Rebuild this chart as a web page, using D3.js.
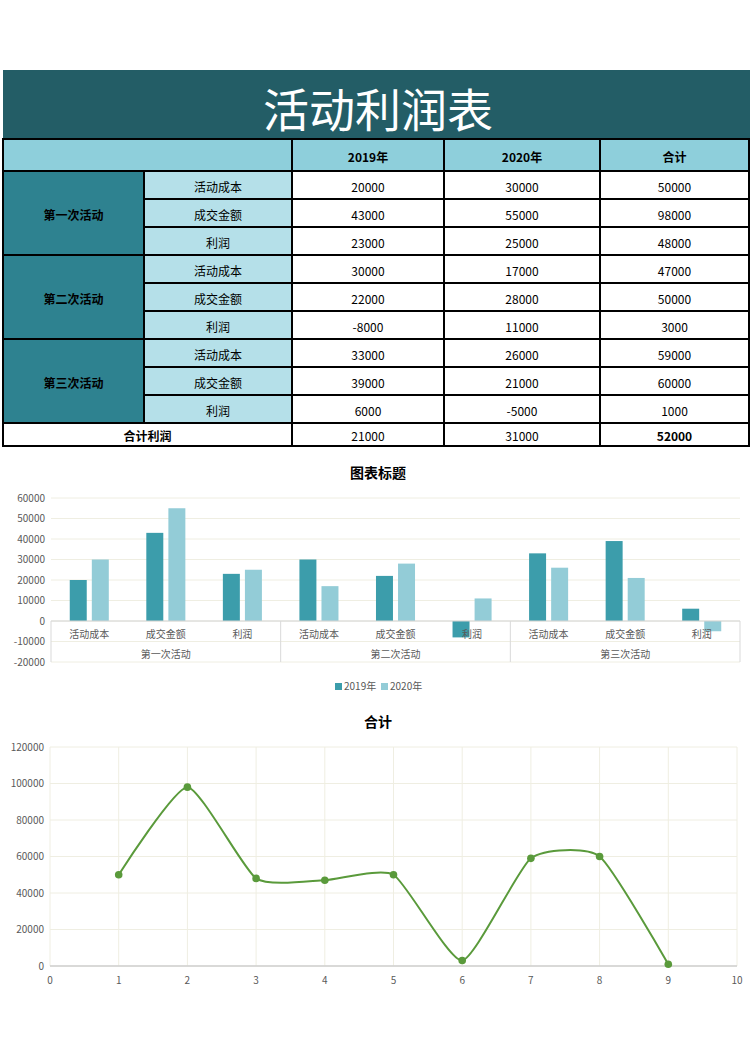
<!DOCTYPE html>
<html lang="zh">
<head>
<meta charset="utf-8">
<title>活动利润表</title>
<style>
    body{ margin:0; background:#fff; font-family:"Noto Sans CJK SC", "Noto Sans", sans-serif; }
    .cell-text{ font-size:12px; fill:#000; text-anchor:middle; dominant-baseline:central; }
    .bold{ font-weight:bold; }
    .tick-label{ font-size:10px; fill:#595959; }
    .chart-title{ font-size:14px; font-weight:bold; text-anchor:middle; fill:#000; }
</style>
</head>
<body>
<script src="https://d3js.org/d3.v7.min.js" charset="utf-8"></script>
<script>
    var groups = ['第一次活动','第二次活动','第三次活动']
    var items = ['活动成本','成交金额','利润']
    var years = ['2019年','2020年']
    var values2019 = [20000,43000,23000,30000,22000,-8000,33000,39000,6000]
    var values2020 = [30000,55000,25000,17000,28000,11000,26000,21000,-5000]
    var totals = [50000,98000,48000,47000,50000,3000,59000,60000,1000]
    var profitTotals = [21000,31000,52000]
    var barTicks = [-20000,-10000,0,10000,20000,30000,40000,50000,60000]
    var lineTicksY = [0,20000,40000,60000,80000,100000,120000]
    var lineTicksX = [0,1,2,3,4,5,6,7,8,9,10]

    var svg = d3.select('body').append('svg')
        .attr('width',750).attr('height',1058)

    // ---------- table ----------
    svg.append('rect').attr('x',3).attr('y',70).attr('width',747).attr('height',69).attr('fill','#235d66')
    svg.append('text').attr('x',378).attr('y',107)
        .attr('text-anchor','middle').attr('dominant-baseline','central')
        .attr('font-size',46).attr('fill','#fff')
        .attr('font-family','"Noto Sans CJK SC"')
        .text('活动利润表')

    var colX = [3,144,292,444,600,749]
    var headTop = 139, headH = 32, rowH = 28
    var t = svg.append('g')

    function cell(x0,x1,y0,y1,fill,txt,bold){
        t.append('rect').attr('x',x0).attr('y',y0).attr('width',x1-x0).attr('height',y1-y0)
            .attr('fill',fill).attr('stroke','#000').attr('stroke-width',2)
        if(txt!==undefined){
            t.append('text').attr('class','cell-text'+(bold?' bold':''))
                .attr('x',(x0+x1)/2).attr('y',(y0+y1)/2+1).text(txt)
        }
    }

    cell(colX[0],colX[2],headTop,headTop+headH,'#8ecfdb')
    cell(colX[2],colX[3],headTop,headTop+headH,'#8ecfdb',years[0],true)
    cell(colX[3],colX[4],headTop,headTop+headH,'#8ecfdb',years[1],true)
    cell(colX[4],colX[5],headTop,headTop+headH,'#8ecfdb','合计',true)

    var bodyTop = headTop+headH
    groups.forEach(function(g,gi){
        var gy = bodyTop + gi*3*rowH
        cell(colX[0],colX[1],gy,gy+3*rowH,'#2e8290',g,true)
        items.forEach(function(it,ii){
            var k = gi*3+ii, y0 = gy+ii*rowH
            cell(colX[1],colX[2],y0,y0+rowH,'#b5e0e9',it)
            cell(colX[2],colX[3],y0,y0+rowH,'#fff',values2019[k])
            cell(colX[3],colX[4],y0,y0+rowH,'#fff',values2020[k])
            cell(colX[4],colX[5],y0,y0+rowH,'#fff',totals[k])
        })
    })
    var ty = bodyTop + 9*rowH
    cell(colX[0],colX[2],ty,ty+23,'#fff','合计利润',true)
    cell(colX[2],colX[3],ty,ty+23,'#fff',profitTotals[0])
    cell(colX[3],colX[4],ty,ty+23,'#fff',profitTotals[1])
    cell(colX[4],colX[5],ty,ty+23,'#fff',profitTotals[2],true)

    // ---------- bar chart ----------
    var bar = svg.append('g')
    bar.append('text').attr('class','chart-title').attr('x',378).attr('y',478).text('图表标题')

    var cats = []
    groups.forEach(function(g){ items.forEach(function(it){ cats.push(g+'|'+it) }) })

    var xb = d3.scaleBand().domain(cats).range([51,740])
    var yb = d3.scaleLinear().domain([-20000,60000]).range([662,498])
    var bw = xb.bandwidth()
    var xs = d3.scaleBand().domain(years).range([bw*0.245,bw*0.755]).paddingInner(0.23)

    bar.append('g').selectAll('line').data(barTicks).enter().append('line')
        .attr('x1',51).attr('x2',740)
        .attr('y1',function(d){return yb(d)}).attr('y2',function(d){return yb(d)})
        .attr('stroke','#efeee2').attr('stroke-width',1)

    bar.append('g').selectAll('text').data(barTicks).enter().append('text')
        .attr('class','tick-label').attr('text-anchor','end')
        .attr('x',45).attr('y',function(d){return yb(d)+3.5}).text(function(d){return d})

    var series = [values2019, values2020]
    var barColors = ['#3c9dab','#93ccd7']
    series.forEach(function(vals,si){
        bar.append('g').selectAll('rect').data(vals).enter().append('rect')
            .attr('x',function(d,i){return xb(cats[i]) + xs(years[si])})
            .attr('width',xs.bandwidth())
            .attr('y',function(d){return yb(Math.max(0,d))})
            .attr('height',function(d){return Math.abs(yb(d)-yb(0))})
            .attr('fill',barColors[si])
    })

    // category axis
    bar.append('line').attr('x1',51).attr('x2',740).attr('y1',yb(0)).attr('y2',yb(0))
        .attr('stroke','#d4d4d4').attr('stroke-width',1)
    var sepX = [0,3,6,9].map(function(i){ return i<9 ? xb(cats[i]) : xb(cats[8])+bw })
    bar.append('g').selectAll('line').data(sepX).enter().append('line')
        .attr('x1',function(d){return d}).attr('x2',function(d){return d})
        .attr('y1',yb(0)).attr('y2',yb(-20000))
        .attr('stroke','#d9d9d9')
    bar.append('g').selectAll('text').data(cats).enter().append('text')
        .attr('class','tick-label').attr('text-anchor','middle')
        .attr('x',function(d){return xb(d)+bw/2}).attr('y',638)
        .text(function(d){return d.split('|')[1]})
    bar.append('g').selectAll('text').data(groups).enter().append('text')
        .attr('class','tick-label').attr('text-anchor','middle')
        .attr('x',function(d,i){return (sepX[i]+sepX[i+1])/2}).attr('y',658)
        .text(function(d){return d})

    // legend
    var lg = bar.append('g')
    var legX = [335,381]
    years.forEach(function(y,i){
        lg.append('rect').attr('x',legX[i]).attr('y',683).attr('width',7).attr('height',7).attr('fill',barColors[i])
        lg.append('text').attr('class','tick-label').attr('x',legX[i]+9).attr('y',690).text(y)
    })

    // ---------- line chart ----------
    var lc = svg.append('g')
    lc.append('text').attr('class','chart-title').attr('x',378).attr('y',727).text('合计')

    var xl = d3.scaleLinear().domain([0,10]).range([50,737])
    var yl = d3.scaleLinear().domain([0,120000]).range([966,747])

    lc.append('g').selectAll('line').data(lineTicksY).enter().append('line')
        .attr('x1',50).attr('x2',737)
        .attr('y1',function(d){return yl(d)}).attr('y2',function(d){return yl(d)})
        .attr('stroke','#efeee2')
    lc.append('g').selectAll('line').data(lineTicksX).enter().append('line')
        .attr('x1',function(d){return xl(d)}).attr('x2',function(d){return xl(d)})
        .attr('y1',yl(120000)).attr('y2',yl(0))
        .attr('stroke','#efeee2')
    lc.append('line').attr('x1',50).attr('x2',737).attr('y1',yl(0)).attr('y2',yl(0))
        .attr('stroke','#cfcfcf').attr('stroke-width',1.5)

    lc.append('g').selectAll('text').data(lineTicksY).enter().append('text')
        .attr('class','tick-label').attr('text-anchor','end')
        .attr('x',44).attr('y',function(d){return yl(d)+3.5}).text(function(d){return d})
    lc.append('g').selectAll('text').data(lineTicksX).enter().append('text')
        .attr('class','tick-label').attr('text-anchor','middle')
        .attr('x',function(d){return xl(d)}).attr('y',984).text(function(d){return d})

    var pts = totals.map(function(v,i){ return [i+1, v] })
    var line = d3.line()
        .x(function(d){return xl(d[0])}).y(function(d){return yl(d[1])})
        .curve(d3.curveCardinal.tension(0.45))
    lc.append('path').datum(pts).attr('d',line)
        .attr('fill','none').attr('stroke','#5a9a3b').attr('stroke-width',2)
    lc.append('g').selectAll('circle').data(pts).enter().append('circle')
        .attr('cx',function(d){return xl(d[0])}).attr('cy',function(d){return yl(d[1])})
        .attr('r',3.8).attr('fill','#5a9a3b')
</script>
</body>
</html>
